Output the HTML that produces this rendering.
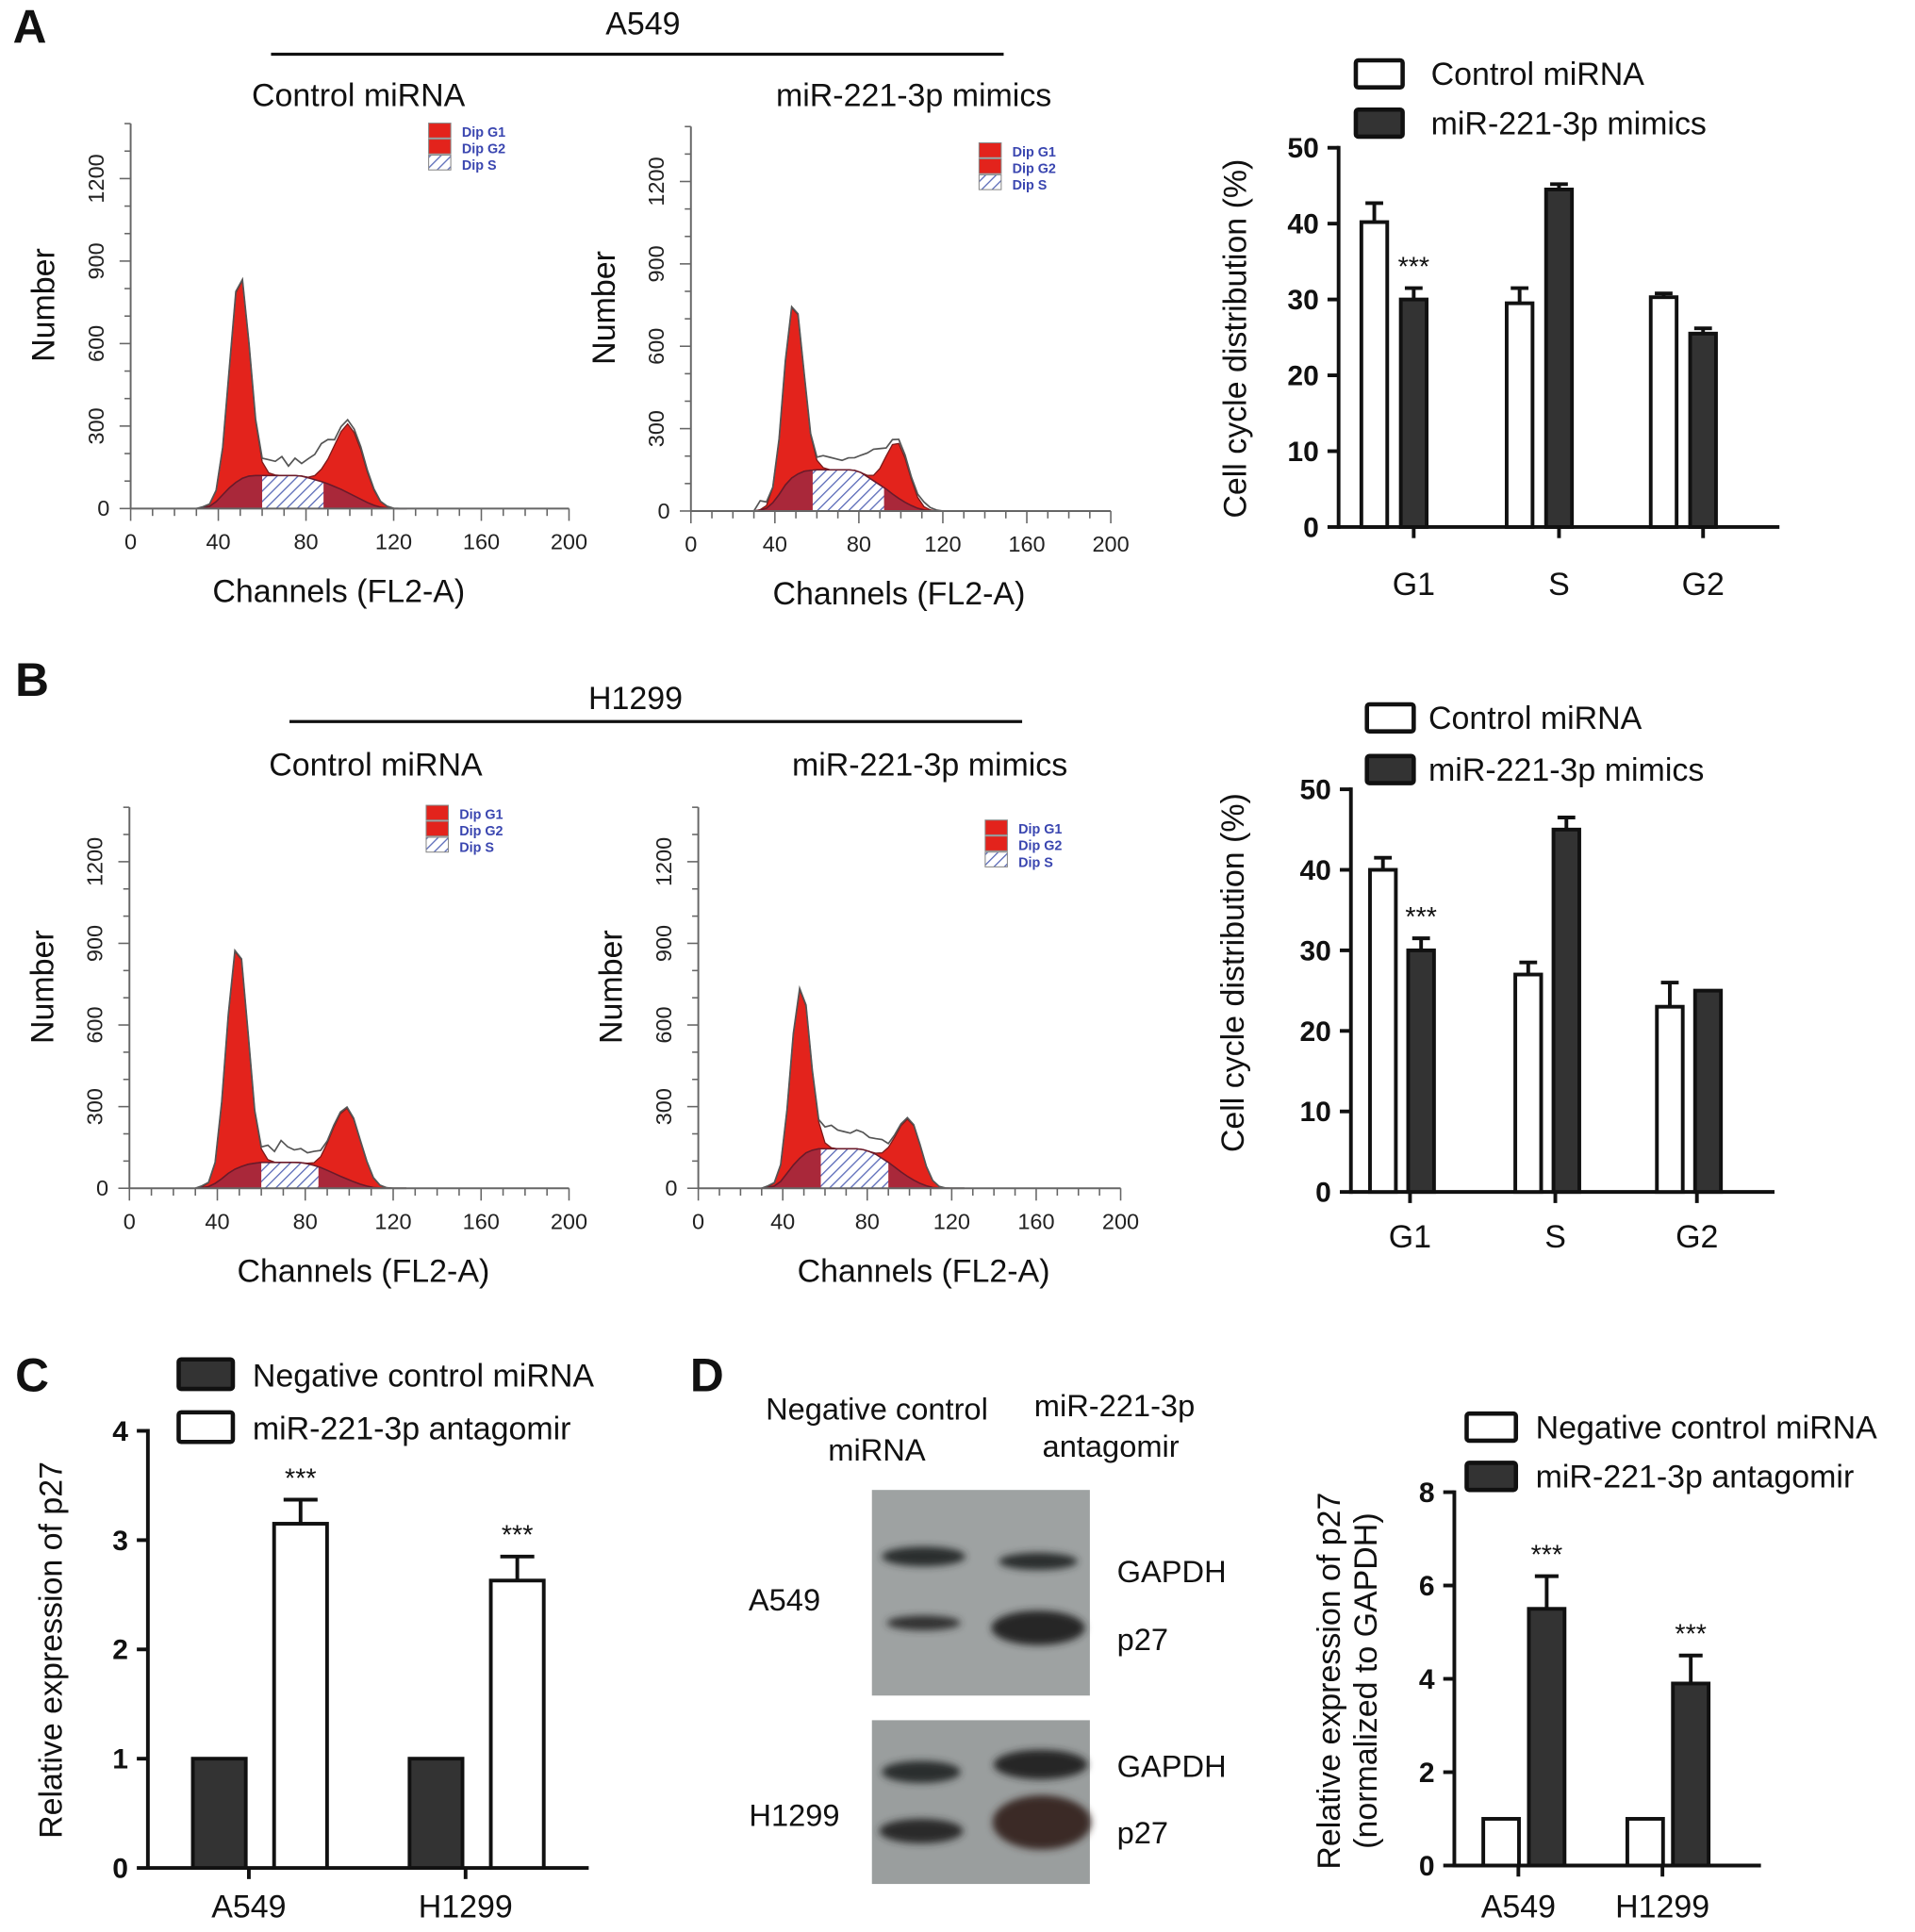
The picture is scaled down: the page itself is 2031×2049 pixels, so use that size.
<!DOCTYPE html>
<html><head><meta charset="utf-8"><style>
html,body{margin:0;padding:0;background:#fff;}
svg{display:block;font-family:"Liberation Sans",Arial,sans-serif;}
</style></head><body>
<svg id="fig" width="2031" height="2049" viewBox="0 0 1555 1569" xmlns="http://www.w3.org/2000/svg">
<defs>
<pattern id="hatch" patternUnits="userSpaceOnUse" width="6" height="6" patternTransform="rotate(45)">
<rect width="6" height="6" fill="#fff"/><line x1="0" y1="0" x2="0" y2="6" stroke="#5a6ab8" stroke-width="2"/>
</pattern>
<filter id="blur" x="-20%" y="-50%" width="140%" height="200%"><feGaussianBlur stdDeviation="3"/></filter>
</defs>
<g id="root"></g>
</svg>
<script>
// ---------- Histogram data (channel / counts) ----------
const histChannels = [30,33,36,39,42,45,48,51,54,57,60,63,66,69,72,75,78,81,84,87,90,93,96,99,102,105,108,111,114,117,120,123,126];
// Hist 1 : A549 control
const h1G1 = [0,2,8,40,170,430,690,720,480,200,50,10,2,0,0,0,0,0,0,0,0,0,0,0,0,0,0,0,0,0,0,0,0];
const h1S  = [0,2,8,25,50,75,95,110,118,120,120,120,120,120,120,120,118,112,105,98,90,80,70,58,46,34,22,12,5,2,0,0,0];
const h1G2 = [0,0,0,0,0,0,0,0,0,0,0,0,0,0,0,0,0,2,15,45,90,150,210,250,230,180,110,55,20,6,1,0,0];
const h1Noise = [0,4,2,10,20,25,30,20,15,35,55,50,45,60,30,55,40,60,80,120,140,135,120,100,85,70,50,28,10,4,0,0,0];
// Hist 2 : A549 mimics
const h2G1 = [0,2,10,55,200,450,620,580,350,130,35,8,1,0,0,0,0,0,0,0,0,0,0,0,0,0,0,0,0,0,0,0,0];
const h2S  = [0,3,10,30,60,95,120,135,145,148,150,150,150,150,150,150,148,140,125,110,95,80,62,46,32,20,10,4,1,0,0,0,0];
const h2G2 = [0,0,0,0,0,0,0,0,0,0,0,0,0,0,0,0,0,0,5,20,60,120,180,200,160,95,40,12,3,0,0,0,0];
const h2Noise = [0,30,20,12,20,20,25,20,15,30,40,45,40,35,30,38,40,55,75,100,115,130,120,100,80,60,45,25,10,3,0,0,0];
// Hist 3 : H1299 control
const h3G1 = [0,3,15,75,280,580,800,760,480,190,50,10,1,0,0,0,0,0,0,0,0,0,0,0,0,0,0,0,0,0,0,0,0];
const h3S  = [0,2,6,18,35,55,70,80,88,92,95,95,95,95,95,95,94,90,84,76,66,55,44,34,24,15,8,3,1,0,0,0,0];
const h3G2 = [0,0,0,0,0,0,0,0,0,0,0,0,0,0,0,0,0,2,10,40,100,170,230,260,230,160,90,35,10,2,0,0,0];
const h3Noise = [0,6,4,15,25,30,25,20,15,30,45,55,35,70,50,40,45,35,45,55,50,45,40,30,25,20,12,6,2,0,0,0,0];
// Hist 4 : H1299 mimics
const h4G1 = [0,2,12,60,230,480,620,540,290,100,22,4,0,0,0,0,0,0,0,0,0,0,0,0,0,0,0,0,0,0,0,0,0];
const h4S  = [0,2,8,25,55,85,110,130,140,145,145,145,145,145,145,145,142,135,125,110,95,78,60,44,30,18,9,3,1,0,0,0,0];
const h4G2 = [0,0,0,0,0,0,0,0,0,0,0,0,0,0,0,0,0,0,4,20,55,110,170,210,200,140,70,25,6,1,0,0,0];
const h4Noise = [0,6,4,12,20,25,30,25,20,50,70,75,60,55,50,60,55,45,50,60,60,55,45,35,25,18,10,4,1,0,0,0,0];
const histXTicks = [0,40,80,120,160,200];
const histYTicks = [0,300,600,900,1200];

// ---------- Bar chart data ----------
const phases = ["G1","S","G2"];
const aControl = [40.2,29.5,30.3];
const aControlErr = [2.5,2.0,0.5];
const aMimics = [30.0,44.5,25.5];
const aMimicsErr = [1.5,0.7,0.7];
const bControl = [40.0,27.0,23.0];
const bControlErr = [1.5,1.5,3.0];
const bMimics = [30.0,45.0,25.0];
const bMimicsErr = [1.5,1.5,0.0];
const cellTicks = [0,10,20,30,40,50];

const cLines = ["A549","H1299"];
const cNeg = [1,1];
const cAnta = [3.15,2.63];
const cAntaErr = [0.22,0.22];
const cTicks = [0,1,2,3,4];

const dNeg = [1,1];
const dAnta = [5.5,3.9];
const dAntaErr = [0.7,0.6];
const dTicks = [0,2,4,6,8];

const NS="http://www.w3.org/2000/svg";
const root=document.getElementById('root');
function el(tag,attrs,parent,text){const e=document.createElementNS(NS,tag);for(const k in attrs)e.setAttribute(k,attrs[k]);if(text!==undefined)e.textContent=text;(parent||root).appendChild(e);return e;}
function txt(x,y,s,size,opts,parent){opts=opts||{};const a={x:x,y:y,'font-size':size,fill:opts.fill||'#111','text-anchor':opts.anchor||'middle'};if(opts.weight)a['font-weight']=opts.weight;if(opts.rot!==undefined)a.transform='rotate('+opts.rot+' '+x+' '+y+')';return el('text',a,parent,s);}

let t;
t=txt(24,35,"A",38,{weight:'bold'});
t=txt(26,565,"B",38,{weight:'bold'});
t=txt(26,1130,"C",38,{weight:'bold'});
t=txt(574,1130,"D",38,{weight:'bold'});
t=txt(522,28,"A549",26);
el('line',{x1:220,y1:44,x2:815,y2:44,stroke:'#111','stroke-width':2.5});
t=txt(516,576,"H1299",26);
el('line',{x1:235,y1:586,x2:830,y2:586,stroke:'#111','stroke-width':2.5});

function drawHist(cfg){
  const g=el('g',{});
  
  
  const xs=c=>cfg.x0+c*cfg.xk;
  const ys=v=>cfg.y0-v*cfg.yk;
  const N=histChannels.length;
  function area(top,bot){let d='M'+xs(histChannels[0])+','+ys(bot[0]);for(let i=0;i<N;i++)d+=' L'+xs(histChannels[i])+','+ys(top[i]);for(let i=N-1;i>=0;i--)d+=' L'+xs(histChannels[i])+','+ys(bot[i]);return d+'Z';}
  const zero=histChannels.map(()=>0);
  const sg1=cfg.S.map((v,i)=>v+cfg.G1[i]);
  const sg2=cfg.S.map((v,i)=>v+cfg.G2[i]);
  let p=el('path',{d:area(sg1,zero),fill:'#e3231c',stroke:'#7a1a1a','stroke-width':1},g);
  
  p=el('path',{d:area(sg2,zero),fill:'#e3231c',stroke:'#7a1a1a','stroke-width':1},g);
  
  const cid='clip'+cfg.name;
  const cp=el('clipPath',{id:cid},g);
  el('rect',{x:xs(cfg.hatch[0]),y:0,width:xs(cfg.hatch[1])-xs(cfg.hatch[0]),height:2000},cp);
  p=el('path',{d:area(cfg.S,zero),fill:'#a9283a',stroke:'none'},g);
  
  p=el('path',{d:area(cfg.S,zero),fill:'url(#hatch)','clip-path':'url(#'+cid+')'},g);
  
  let d='';for(let i=0;i<N;i++)d+=(i?' L':'M')+xs(histChannels[i])+','+ys(cfg.S[i]);
  el('path',{d:d,fill:'none',stroke:'#6a1a2a','stroke-width':1.2},g);
  const tot=cfg.S.map((v,i)=>Math.max(v+cfg.G1[i]+cfg.G2[i],cfg.S[i]+cfg.noise[i]));
  d='';for(let i=0;i<N;i++)d+=(i?' L':'M')+xs(histChannels[i])+','+ys(tot[i]+(i>0&&i<N-1?cfg.noise[i]*0.15:0));
  p=el('path',{d:d,fill:'none',stroke:'#555','stroke-width':1.3},g);
  
  el('line',{x1:cfg.x0,y1:cfg.y0,x2:xs(200),y2:cfg.y0,stroke:'#666','stroke-width':1.5},g);
  el('line',{x1:cfg.x0,y1:cfg.y0,x2:cfg.x0,y2:ys(1400),stroke:'#666','stroke-width':1.5},g);
  for(let c=0;c<=200;c+=10){const big=c%40===0;el('line',{x1:xs(c),y1:cfg.y0,x2:xs(c),y2:cfg.y0+(big?10:6),stroke:'#666','stroke-width':1.2},g);}
  for(let v=0;v<=1400;v+=100){const big=v%300===0;el('line',{x1:cfg.x0,y1:ys(v),x2:cfg.x0-(big?9:5),y2:ys(v),stroke:'#666','stroke-width':1.2},g);}
  histXTicks.forEach(c=>txt(xs(c),cfg.y0+33,String(c),18,{fill:'#222'},g));
  histYTicks.forEach(v=>{if(v===0)txt(cfg.x0-22,ys(v)+6,"0",18,{fill:'#222'},g);else txt(cfg.x0-22,ys(v),String(v),18,{fill:'#222',rot:-90},g);});
  let tt=txt(cfg.titleX,cfg.titleY,cfg.title,26,{},g);
  tt=txt(cfg.xlabX,cfg.y0+76,"Channels (FL2-A)",26,{},g);
  tt=txt(cfg.x0-62,ys(740),"Number",26,{rot:-90},g);
  const lg=el('g',{},g);
  const L=cfg.leg;
  el('rect',{x:L[0],y:L[1],width:18,height:12,fill:'#e3231c',stroke:'#888','stroke-width':0.8},lg);
  el('rect',{x:L[0],y:L[1]+13,width:18,height:12,fill:'#e3231c',stroke:'#888','stroke-width':0.8},lg);
  el('rect',{x:L[0],y:L[1]+26,width:18,height:12,fill:'url(#hatch)',stroke:'#888','stroke-width':0.8},lg);
  ["Dip G1","Dip G2","Dip S"].forEach((s,i)=>txt(L[0]+27,L[1]+11+i*13.5,s,11,{fill:'#3a46b0',anchor:'start',weight:'bold'},lg));
}
drawHist({name:'histogram-a549-control',x0:106,y0:413,xk:1.78,yk:0.2233,G1:h1G1,S:h1S,G2:h1G2,noise:h1Noise,hatch:[60,88],title:"Control miRNA",titleX:291,titleY:86,xlabX:275,leg:[348,100]});
drawHist({name:'histogram-a549-mimics',x0:561,y0:415,xk:1.705,yk:0.223,G1:h2G1,S:h2S,G2:h2G2,noise:h2Noise,hatch:[58,92],title:"miR-221-3p mimics",titleX:742,titleY:86,xlabX:730,leg:[795,116]});
drawHist({name:'histogram-h1299-control',x0:105,y0:965,xk:1.785,yk:0.221,G1:h3G1,S:h3S,G2:h3G2,noise:h3Noise,hatch:[60,86],title:"Control miRNA",titleX:305,titleY:630,xlabX:295,leg:[346,654]});
drawHist({name:'histogram-h1299-mimics',x0:567,y0:965,xk:1.715,yk:0.221,G1:h4G1,S:h4S,G2:h4G2,noise:h4Noise,hatch:[58,90],title:"miR-221-3p mimics",titleX:755,titleY:630,xlabX:750,leg:[800,666]});

function drawBars(cfg){
  const g=el('g',{});
  
  
  const ys=v=>cfg.y0-v*cfg.yk;
  el('line',{x1:cfg.x0,y1:cfg.y0,x2:cfg.x1,y2:cfg.y0,stroke:'#111','stroke-width':3},g);
  el('line',{x1:cfg.x0,y1:cfg.y0+1.5,x2:cfg.x0,y2:ys(cfg.ticks[cfg.ticks.length-1])-1.5,stroke:'#111','stroke-width':3},g);
  cfg.ticks.forEach(v=>{el('line',{x1:cfg.x0,y1:ys(v),x2:cfg.x0-9,y2:ys(v),stroke:'#111','stroke-width':3},g);
    txt(cfg.x0-16,ys(v)+8,String(v),23,{anchor:'end',weight:'bold'},g);});
  cfg.cats.forEach((c,i)=>{
    const cx=cfg.catX[i];
    el('line',{x1:cx,y1:cfg.y0,x2:cx,y2:cfg.y0+9,stroke:'#111','stroke-width':3},g);
    txt(cx,cfg.y0+cfg.catDy,c,26,{},g);
    cfg.series.forEach((s,j)=>{
      const bx=cx+s.off, v=s.vals[i], e=s.err?s.err[i]:0;
      if(e>0){el('line',{x1:bx+cfg.bw/2,y1:ys(v),x2:bx+cfg.bw/2,y2:ys(v+e),stroke:'#111','stroke-width':3},g);
        el('line',{x1:bx+cfg.bw/2-cfg.bw*0.3,y1:ys(v+e),x2:bx+cfg.bw/2+cfg.bw*0.3,y2:ys(v+e),stroke:'#111','stroke-width':3},g);}
      const r=el('rect',{x:bx+1.5,y:ys(v),width:cfg.bw-3,height:v*cfg.yk,fill:s.fill,stroke:'#111','stroke-width':3},g);
      
      
      if(s.stars&&s.stars[i])txt(bx+cfg.bw/2,ys(v+e)-10,"***",22,{},g);
    });
  });
  const lt=txt(cfg.ylab[0],cfg.ylab[1],cfg.ylab[2],26,{rot:-90},g);
  
  if(cfg.ylab2){txt(cfg.ylab2[0],cfg.ylab2[1],cfg.ylab2[2],26,{rot:-90},g);}
  cfg.legend.forEach(L=>{
    const lg=el('g',{},g);
    el('rect',{x:L.x,y:L.y,width:L.w,height:L.h,fill:L.fill,stroke:'#111','stroke-width':3.5,rx:2},lg);
    txt(L.tx,L.y+L.h-2,L.text,26,{anchor:'start'},lg);
  });
}
const DARK='#333';
drawBars({name:'bar-chart-a549-cell-cycle',x0:1087,x1:1445,y0:428,yk:6.16,ticks:cellTicks,cats:phases,catX:[1148,1266,1383],catDy:55,bw:24,
  series:[{key:'control',vals:aControl,err:aControlErr,fill:'#fff',off:-44},{key:'mimics',vals:aMimics,err:aMimicsErr,fill:DARK,off:-12,stars:[1,0,0]}],
  ylab:[1012,275,"Cell cycle distribution (%)"],
  legend:[{x:1101,y:49,w:38,h:22,fill:'#fff',tx:1162,text:"Control miRNA"},{x:1101,y:89,w:38,h:22,fill:DARK,tx:1162,text:"miR-221-3p mimics"}]});
drawBars({name:'bar-chart-h1299-cell-cycle',x0:1097,x1:1441,y0:968,yk:6.54,ticks:cellTicks,cats:phases,catX:[1145,1263,1378],catDy:45,bw:24,
  series:[{key:'control',vals:bControl,err:bControlErr,fill:'#fff',off:-34},{key:'mimics',vals:bMimics,err:bMimicsErr,fill:DARK,off:-3,stars:[1,0,0]}],
  ylab:[1010,790,"Cell cycle distribution (%)"],
  legend:[{x:1110,y:572,w:38,h:22,fill:'#fff',tx:1160,text:"Control miRNA"},{x:1110,y:614,w:38,h:22,fill:DARK,tx:1160,text:"miR-221-3p mimics"}]});
drawBars({name:'bar-chart-p27-mrna',x0:120,x1:478,y0:1517,yk:88.75,ticks:cTicks,cats:cLines,catX:[202,378],catDy:40,bw:46,
  series:[{key:'negative',vals:cNeg,fill:DARK,off:-47},{key:'antagomir',vals:cAnta,err:cAntaErr,fill:'#fff',off:19,stars:[1,1]}],
  ylab:[50,1340,"Relative expression of p27"],
  legend:[{x:145,y:1104,w:44,h:24,fill:DARK,tx:205,text:"Negative control miRNA"},{x:145,y:1147,w:44,h:24,fill:'#fff',tx:205,text:"miR-221-3p antagomir"}]});
drawBars({name:'bar-chart-p27-protein',x0:1181,x1:1430,y0:1515,yk:37.9,ticks:dTicks,cats:cLines,catX:[1233,1350],catDy:42,bw:32,
  series:[{key:'negative',vals:dNeg,fill:'#fff',off:-30},{key:'antagomir',vals:dAnta,err:dAntaErr,fill:DARK,off:7,stars:[1,1]}],
  ylab:[1088,1365,"Relative expression of p27"],ylab2:[1118,1365,"(normalized to GAPDH)"],
  legend:[{x:1191,y:1148,w:40,h:22,fill:'#fff',tx:1247,text:"Negative control miRNA"},{x:1191,y:1188,w:40,h:22,fill:DARK,tx:1247,text:"miR-221-3p antagomir"}]});

const wb=el('g',{});
txt(712,1153,"Negative control",25,{},wb);txt(712,1186,"miRNA",25,{},wb);
txt(905,1150,"miR-221-3p",25,{},wb);txt(902,1183,"antagomir",25,{},wb);
txt(637,1308,"A549",25,{},wb);txt(645,1483,"H1299",25,{},wb);
txt(907,1285,"GAPDH",25,{anchor:'start'},wb);txt(907,1340,"p27",25,{anchor:'start'},wb);
txt(907,1443,"GAPDH",25,{anchor:'start'},wb);txt(907,1497,"p27",25,{anchor:'start'},wb);
const b1=el('rect',{x:708,y:1210,width:177,height:167,fill:'#9ea2a2'},wb);
const b2=el('rect',{x:708,y:1397,width:177,height:133,fill:'#9a9e9e'},wb);
[[750,1264,34,8,'#2c2f2f'],[843,1268,32,7,'#2c2f2f'],[750,1318,30,6,'#333'],[843,1322,38,14,'#262626'],
 [748,1439,32,9,'#2b2e2e'],[845,1433,38,12,'#262828'],[748,1487,34,10,'#2a2a2a'],[846,1480,40,22,'#3a2a26']].forEach(b=>{
  el('ellipse',{cx:b[0],cy:b[1],rx:b[2],ry:b[3],fill:b[4],filter:'url(#blur)'},wb);});
</script>
</body></html>
